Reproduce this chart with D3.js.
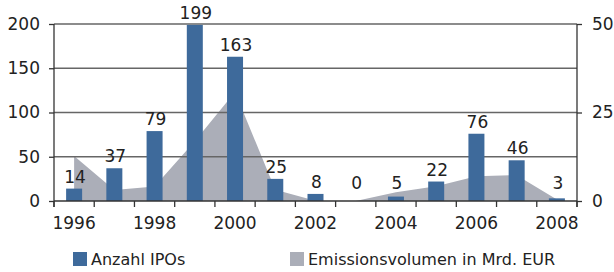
<!DOCTYPE html>
<html>
<head>
<meta charset="utf-8">
<script src="https://cdn.jsdelivr.net/npm/d3@7"></script>
<style>
  body { margin: 0; background: #fff; }
  text { font-family: "DejaVu Sans", sans-serif; fill: #222; }
</style>
</head>
<body>
<script>
// data
var years = [1996, 1997, 1998, 1999, 2000, 2001, 2002, 2003, 2004, 2005, 2006, 2007, 2008];
var ipos = [14, 37, 79, 199, 163, 25, 8, 0, 5, 22, 76, 46, 3];
var volume = [12.7, 3.1, 4.1, 16.9, 30.8, 3.2, 0.1, 0, 2.5, 4.2, 7, 7.3, 0.4];
var leftTicks = [0, 50, 100, 150, 200];
var rightTicks = [0, 25, 50];
var yearLabels = [1996, 1998, 2000, 2002, 2004, 2006, 2008];
var seriesNames = ["Anzahl IPOs", "Emissionsvolumen in Mrd. EUR"];

var width = 614, height = 272;
var plotL = 54, plotR = 577, plotT = 24, plotB = 201;
var barColor = "#3e6a9b", areaColor = "#abaeb8", gridColor = "#666";

var svg = d3.select("body")
	.append("svg")
	.attr("width", width)
	.attr("height", height);

var x = d3.scaleBand()
	.domain(years)
	.range([plotL, plotR]);

var y = d3.scaleLinear()
	.domain([0, 200])
	.range([plotB, plotT]);

var y2 = d3.scaleLinear()
	.domain([0, 50])
	.range([plotB, plotT]);

var cx = function(d) { return x(d) + x.bandwidth() / 2; };

// area (behind bars)
var area = d3.area()
	.x(function(d, i) { return cx(years[i]); })
	.y0(plotB)
	.y1(function(d) { return y2(d); });

svg.append("path")
	.datum(volume)
	.attr("d", area)
	.attr("fill", areaColor);

// gridlines
svg.selectAll("line.grid")
	.data(leftTicks.filter(function(d) { return d > 0; }))
	.enter()
	.append("line")
	.attr("class", "grid")
	.attr("x1", plotL)
	.attr("x2", plotR)
	.attr("y1", function(d) { return y(d); })
	.attr("y2", function(d) { return y(d); })
	.attr("stroke", gridColor)
	.attr("stroke-width", 1.3);

// bars
var barW = 16;
svg.selectAll("rect.bar")
	.data(ipos)
	.enter()
	.append("rect")
	.attr("class", "bar")
	.attr("x", function(d, i) { return cx(years[i]) - barW / 2; })
	.attr("y", function(d) { return y(d); })
	.attr("width", barW)
	.attr("height", function(d) { return plotB - y(d); })
	.attr("fill", barColor);

// bar labels
svg.selectAll("text.val")
	.data(ipos)
	.enter()
	.append("text")
	.attr("class", "val")
	.attr("x", function(d, i) { return cx(years[i]) + 1; })
	.attr("y", function(d) { return Math.min(y(d) - 6, plotB - 12); })
	.attr("text-anchor", "middle")
	.style("font-size", "17px")
	.text(function(d) { return d; });

// left axis
var yAxis = d3.axisLeft(y)
	.tickValues(leftTicks)
	.tickSize(5)
	.tickPadding(9);
var gl = svg.append("g")
	.attr("transform", "translate(" + plotL + ",0)")
	.call(yAxis);

// right axis
var yAxis2 = d3.axisRight(y2)
	.tickValues(rightTicks)
	.tickSize(5)
	.tickPadding(10);
var gr = svg.append("g")
	.attr("transform", "translate(" + plotR + ",0)")
	.call(yAxis2);

// x axis: ticks on band boundaries
var gx = svg.append("g");
gx.append("line")
	.attr("x1", plotL).attr("x2", plotR)
	.attr("y1", plotB).attr("y2", plotB)
	.attr("stroke", "#333").attr("stroke-width", 1.3);
gx.selectAll("line.xt")
	.data(years.concat([null]))
	.enter()
	.append("line")
	.attr("class", "xt")
	.attr("x1", function(d) { return d === null ? plotR : x(d); })
	.attr("x2", function(d) { return d === null ? plotR : x(d); })
	.attr("y1", plotB)
	.attr("y2", plotB + 6)
	.attr("stroke", "#333")
	.attr("stroke-width", 1.3);
gx.selectAll("text.xl")
	.data(yearLabels)
	.enter()
	.append("text")
	.attr("class", "xl")
	.attr("x", function(d) { return cx(d); })
	.attr("y", 229)
	.attr("text-anchor", "middle")
	.style("font-size", "17px")
	.text(function(d) { return d; });

[gl, gr].forEach(function(g) {
	g.select(".domain").attr("stroke", "#333").attr("stroke-width", 1.3)
		.attr("d", "M0," + plotT + "V" + (plotB + 6));
	g.selectAll(".tick line").attr("stroke", "#333").attr("stroke-width", 1.3);
	g.selectAll(".tick text")
		.style("font-family", "DejaVu Sans, sans-serif")
		.style("font-size", "17px")
		.attr("fill", "#222");
});

// legend
var legend = svg.selectAll("g.leg")
	.data(seriesNames)
	.enter()
	.append("g")
	.attr("class", "leg")
	.attr("transform", function(d, i) { return "translate(" + (i === 0 ? 73 : 290) + ",252)"; });
legend.append("rect")
	.attr("width", 14)
	.attr("height", 14)
	.attr("fill", function(d, i) { return i === 0 ? barColor : areaColor; });
legend.append("text")
	.attr("x", 18)
	.attr("y", 13)
	.style("font-size", "16px")
	.text(function(d) { return d; });
</script>
</body>
</html>
